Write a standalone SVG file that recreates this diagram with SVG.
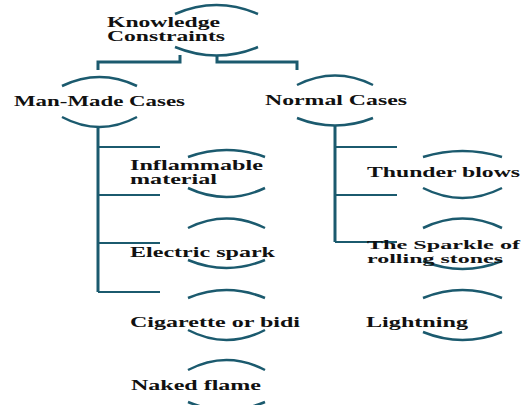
<svg xmlns="http://www.w3.org/2000/svg" width="521" height="405" viewBox="0 0 521 405">
<style>
.arc{fill:none;stroke:#1b5a6e;stroke-width:2.5}
.trunk{fill:none;stroke:#1b5a6e;stroke-width:3}
.br{fill:none;stroke:#1b5a6e;stroke-width:2}
text{font-family:"Liberation Serif","Times New Roman",serif;font-weight:bold;font-size:14px;fill:#111}
.sm{font-size:13px}
</style>
<rect width="521" height="405" fill="#fff"/>
<g id="connectors">
<path class="trunk" d="M180,55 V62 H98 V70"/>
<path class="trunk" d="M217,55 V62 H297 V70"/>
<path class="trunk" d="M98,127 V292"/>
<path class="br" d="M98,147 H160 M98,195 H160 M98,243 H160 M98,292 H160"/>
<path class="trunk" d="M335,125 V242"/>
<path class="br" d="M335,147 H397 M335,195 H397 M335,242 H397"/>
</g>
<g id="knowledge">
<path class="arc" d="M175,14 Q216.5,-4 258,14 M175,47 Q216.5,64 258,47"/>
<text x="107" y="27" textLength="113" lengthAdjust="spacingAndGlyphs">Knowledge</text>
<text x="107" y="41" textLength="118" lengthAdjust="spacingAndGlyphs">Constraints</text>
</g>
<g id="manmade">
<path class="arc" d="M62,86 Q99.5,68 137,86 M62,117 Q99.5,137 137,117"/>
<text x="14" y="106" textLength="171" lengthAdjust="spacingAndGlyphs">Man-Made Cases</text>
</g>
<g id="normal">
<path class="arc" d="M297,85 Q335,66 373,85 M297,118 Q335,133 373,118"/>
<text x="265" y="105" textLength="142" lengthAdjust="spacingAndGlyphs">Normal Cases</text>
</g>
<g id="inflammable">
<path class="arc" d="M188,157 Q226.5,143 265,157 M188,188 Q226.5,206 265,188"/>
<text x="130" y="170" textLength="133" lengthAdjust="spacingAndGlyphs">Inflammable</text>
<text x="130" y="184" textLength="87" lengthAdjust="spacingAndGlyphs">material</text>
</g>
<g id="electric">
<path class="arc" d="M188,228 Q226.5,209 265,228 M188,260 Q226.5,276 265,260"/>
<text x="130" y="257" textLength="145" lengthAdjust="spacingAndGlyphs">Electric spark</text>
</g>
<g id="cigarette">
<path class="arc" d="M188,298 Q226.5,282 265,298 M188,330 Q226.5,350 265,330"/>
<text x="130" y="327" textLength="170" lengthAdjust="spacingAndGlyphs">Cigarette or bidi</text>
</g>
<g id="naked">
<path class="arc" d="M188,370 Q226.5,350 265,370 M188,402 Q226.5,418 265,402"/>
<text x="131" y="390" textLength="130" lengthAdjust="spacingAndGlyphs">Naked flame</text>
</g>
<g id="thunder">
<path class="arc" d="M423,157 Q462.5,145 502,157 M423,188 Q462.5,208 502,188"/>
<text x="367" y="177" textLength="153" lengthAdjust="spacingAndGlyphs">Thunder blows</text>
</g>
<g id="sparkle">
<path class="arc" d="M423,228 Q462.5,209 502,228 M423,261 Q462.5,277 502,261"/>
<text class="sm" x="367" y="249" textLength="153" lengthAdjust="spacingAndGlyphs">The Sparkle of</text>
<text class="sm" x="367" y="263" textLength="136" lengthAdjust="spacingAndGlyphs">rolling stones</text>
</g>
<g id="lightning">
<path class="arc" d="M423,298 Q462.5,282 502,298 M423,332 Q462.5,348 502,332"/>
<text x="366" y="327" textLength="102" lengthAdjust="spacingAndGlyphs">Lightning</text>
</g>
</svg>
